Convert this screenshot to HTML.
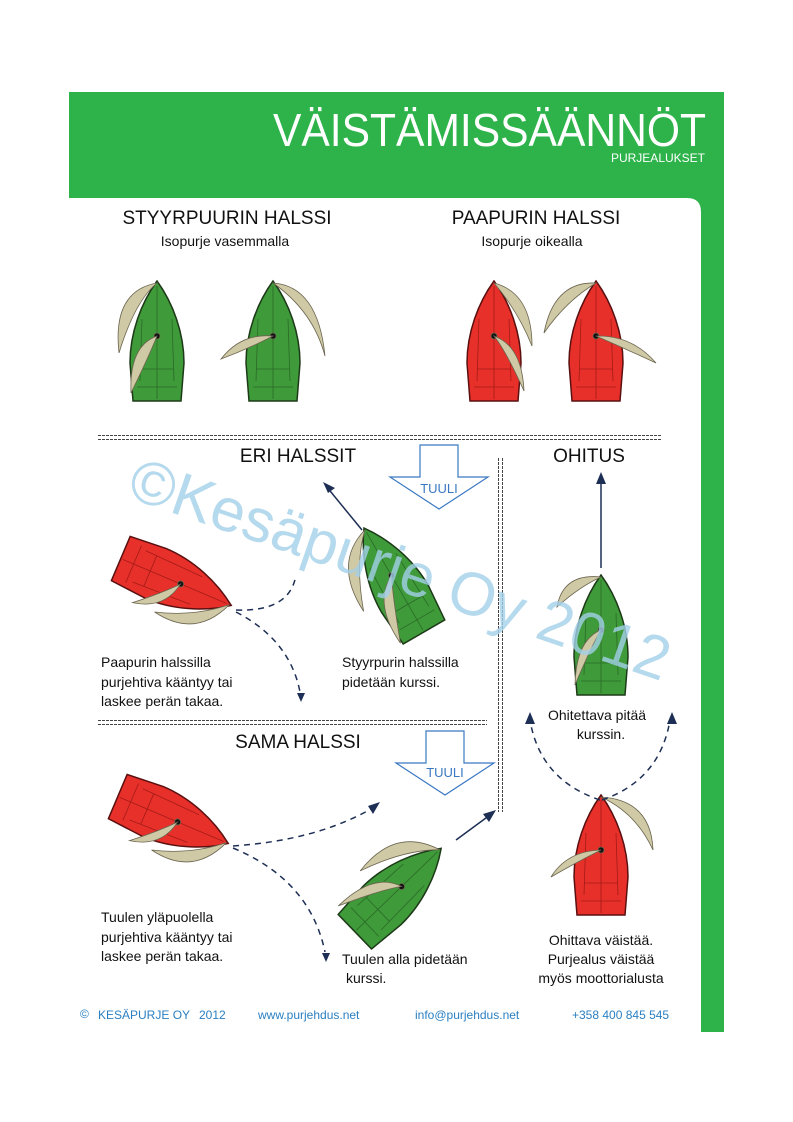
<!DOCTYPE html>
<html><head><meta charset="utf-8"><style>
html,body{margin:0;padding:0;background:#fff;}
svg{display:block;font-family:"Liberation Sans",sans-serif;}
</style></head><body>
<svg width="793" height="1122" viewBox="0 0 793 1122" xmlns="http://www.w3.org/2000/svg">
<defs>
<g id="hullG">
<path d="M0,-60 C16,-38 27,-8 27,22 L24,60 L-24,60 L-27,22 C-27,-8 -16,-38 0,-60Z" fill="#3f9a3a" stroke="#1d3a18" stroke-width="1.5"/>
<path d="M-15,-22 L-17,40 M15,-22 L17,40 M-17,28 L17,28 M-20,46 L20,46 M0,-55 L0,58" stroke="#2b6a27" stroke-width="0.8" fill="none"/>
<circle cx="0" cy="-5" r="3" fill="#111"/>
</g>
<g id="hullR">
<path d="M0,-60 C16,-38 27,-8 27,22 L24,60 L-24,60 L-27,22 C-27,-8 -16,-38 0,-60Z" fill="#e8302a" stroke="#5a1010" stroke-width="1.5"/>
<path d="M-15,-22 L-17,40 M15,-22 L17,40 M-17,28 L17,28 M-20,46 L20,46 M0,-55 L0,58" stroke="#a31b17" stroke-width="0.8" fill="none"/>
<circle cx="0" cy="-5" r="3" fill="#111"/>
</g>
<g id="arr"><path d="M0,0 L-4,-9 L4,-9Z" fill="#1e2f55"/></g>
</defs>

<rect x="69" y="92" width="655" height="106" fill="#2db34a"/>
<rect x="701" y="92" width="23" height="940" fill="#2db34a"/>
<path d="M687,198 Q701,198 701,212 L701,198Z" fill="#2db34a"/>
<text x="273" y="146" font-size="46" fill="#fff" textLength="433" lengthAdjust="spacingAndGlyphs">VÄISTÄMISSÄÄNNÖT</text>
<text x="705" y="162" font-size="12" fill="#fff" text-anchor="end">PURJEALUKSET</text>

<text x="227" y="224" font-size="19" text-anchor="middle" fill="#111">STYYRPUURIN HALSSI</text>
<text x="225" y="246" font-size="14" text-anchor="middle" fill="#111">Isopurje vasemmalla</text>
<text x="536" y="224" font-size="19" text-anchor="middle" fill="#111">PAAPURIN HALSSI</text>
<text x="532" y="246" font-size="14" text-anchor="middle" fill="#111">Isopurje oikealla</text>

<g fill="#cfc9a6" stroke="#6b6550" stroke-width="0.8">
<g transform="translate(157,341)"><use href="#hullG"/><path d="M0,-58 Q-45,-50 -38,12 Q-22,-40 0,-58Z"/><path d="M0,-5 Q-28,5 -26,52 Q-8,15 0,-5Z"/></g>
<g transform="translate(273,341)"><use href="#hullG"/><path d="M0,-58 Q45,-55 52,15 Q40,-30 0,-58Z"/><path d="M0,-5 Q-32,-8 -52,18 Q-25,8 0,-5Z"/></g>
<g transform="translate(494,341)"><use href="#hullR"/><path d="M0,-58 Q38,-48 38,5 Q24,-30 0,-58Z"/><path d="M0,-5 Q28,5 30,50 Q12,10 0,-5Z"/></g>
<g transform="translate(596,341)"><use href="#hullR"/><path d="M0,-58 Q-42,-60 -52,-8 Q-30,-40 0,-58Z"/><path d="M0,-5 Q36,-6 60,22 Q30,8 0,-5Z"/></g>
<g transform="translate(176,582) rotate(113)"><use href="#hullR"/><path d="M0,-58 Q45,-40 36,8 Q25,-30 0,-58Z"/><path d="M0,-5 Q30,0 36,32 Q15,8 0,-5Z"/></g>
<g transform="translate(394,580) rotate(-30)"><use href="#hullG"/><path d="M0,-58 Q-45,-45 -42,12 Q-25,-35 0,-58Z"/><path d="M0,-5 Q-30,10 -26,58 Q-10,15 0,-5Z"/></g>
<g transform="translate(601,635)"><use href="#hullG"/><path d="M0,-58 Q-38,-62 -44,-28 Q-22,-48 0,-58Z"/><path d="M0,-5 Q-25,5 -26,50 Q-10,12 0,-5Z"/></g>
<g transform="translate(601,855)"><use href="#hullR"/><path d="M0,-58 Q50,-55 52,-5 Q35,-42 0,-58Z"/><path d="M0,-5 Q-34,-4 -50,22 Q-26,8 0,-5Z"/></g>
<g transform="translate(173,820) rotate(113)"><use href="#hullR"/><path d="M0,-58 Q45,-40 36,8 Q25,-30 0,-58Z"/><path d="M0,-5 Q30,0 36,32 Q15,8 0,-5Z"/></g>
<g transform="translate(398,890) rotate(46)"><use href="#hullG"/><path d="M0,-58 Q-48,-42 -40,14 Q-25,-32 0,-58Z"/><path d="M0,-5 Q-30,5 -30,54 Q-12,12 0,-5Z"/></g>
</g>

<g stroke="#444" stroke-width="1" fill="none">
<path d="M98,435.5 H662 M98,439.5 H662" stroke-dasharray="3,1"/>
<path d="M98,720.5 H487 M98,724.5 H487" stroke-dasharray="3,1"/>
<path d="M498.5,458 V812 M502.5,458 V812" stroke-dasharray="3,1"/>
</g>

<text x="298" y="462" font-size="19" text-anchor="middle" fill="#111">ERI HALSSIT</text>
<text x="589" y="462" font-size="19" text-anchor="middle" fill="#111">OHITUS</text>
<text x="298" y="748" font-size="19" text-anchor="middle" fill="#111">SAMA HALSSI</text>

<path d="M420,445 H458 V477 H488 L439,509 L390,477 H420Z" fill="#fff" stroke="#3a78c2" stroke-width="1.2"/>
<text x="439" y="493" font-size="13" fill="#3a78c2" text-anchor="middle">TUULI</text>
<path d="M426,731 H464 V763 H494 L445,795 L396,763 H426Z" fill="#fff" stroke="#3a78c2" stroke-width="1.2"/>
<text x="445" y="777" font-size="13" fill="#3a78c2" text-anchor="middle">TUULI</text>

<g stroke="#1e2f55" stroke-width="1.5" fill="none">
<path d="M362,530 L326,486"/>
<path d="M601,568 V482"/>
<path d="M456,840 L490,815"/>
</g>
<g stroke="#1e2f55" stroke-width="1.5" fill="none" stroke-dasharray="6,5">
<path d="M236,610 Q290,612 296,575"/>
<path d="M236,612 Q290,640 300,692"/>
<path d="M233,846 Q320,840 376,806"/>
<path d="M233,848 Q310,880 325,952"/>
<path d="M600,800 Q540,780 530,720"/>
<path d="M602,800 Q660,780 670,720"/>
</g>
<path d="M323,482 L335,488 L328,493Z" fill="#1e2f55"/>
<path d="M601,472 L596,484 L606,484Z" fill="#1e2f55"/>
<path d="M496,810 L483,814 L489,822Z" fill="#1e2f55"/>
<use href="#arr" transform="translate(301,702)"/>
<use href="#arr" transform="translate(326,962)"/>
<path d="M380,802 L368,806 L373,814Z" fill="#1e2f55"/>
<path d="M530,712 L525,724 L535,724Z" fill="#1e2f55"/>
<path d="M672,712 L667,724 L677,724Z" fill="#1e2f55"/>

<g font-size="14" fill="#111">
<text x="101" y="667">Paapurin halssilla</text>
<text x="101" y="687">purjehtiva kääntyy tai</text>
<text x="101" y="706">laskee perän takaa.</text>
<text x="342" y="667">Styyrpurin halssilla</text>
<text x="342" y="687">pidetään kurssi.</text>
<text x="101" y="922">Tuulen yläpuolella</text>
<text x="101" y="942">purjehtiva kääntyy tai</text>
<text x="101" y="961">laskee perän takaa.</text>
<text x="342" y="964">Tuulen alla pidetään</text>
<text x="346" y="983">kurssi.</text>
<text x="597" y="720" text-anchor="middle">Ohitettava pitää</text>
<text x="601" y="739" text-anchor="middle">kurssin.</text>
<text x="601" y="945" text-anchor="middle">Ohittava väistää.</text>
<text x="601" y="964" text-anchor="middle">Purjealus väistää</text>
<text x="601" y="983" text-anchor="middle">myös moottorialusta</text>
</g>

<g font-size="12" fill="#2a7fc1">
<text x="80" y="1018">©</text>
<text x="98" y="1019">KESÄPURJE OY</text>
<text x="199" y="1019">2012</text>
<text x="258" y="1019">www.purjehdus.net</text>
<text x="415" y="1019">info@purjehdus.net</text>
<text x="572" y="1019">+358 400 845 545</text>
</g>

<text x="400" y="590" font-size="61" fill="#a3cfe8" fill-opacity="0.8" text-anchor="middle" transform="rotate(19 400 570)">©Kesäpurje Oy 2012</text>
</svg>
</body></html>
